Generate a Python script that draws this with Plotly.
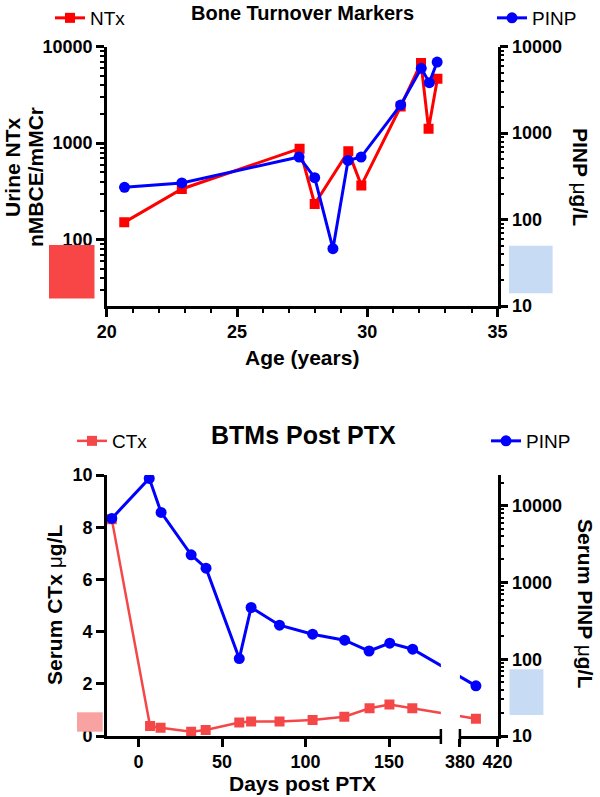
import math
import plotly.graph_objects as go

# ---------------- data ----------------
# Top panel: Bone Turnover Markers vs age
age_ntx = [20.67, 22.88, 27.40, 27.98, 29.27, 29.77, 31.28, 32.06, 32.35, 32.69]
ntx = [151, 335, 877, 234, 822, 365, 2400, 6760, 1413, 4660]
age_pinp = [20.68, 22.88, 27.38, 27.98, 28.68, 29.26, 29.76, 31.28, 32.07, 32.38, 32.68]
pinp_age = [236, 265, 529, 305, 46, 483, 529, 2120, 5620, 3840, 6640]

# Bottom panel: BTMs post PTX vs days
days_ctx = [-16, 6.9, 13.2, 31.5, 40.2, 60.3, 67.4, 84.4, 104.2, 123.2, 138.3, 150.2, 163.9, 397]
ctx = [8.3, 0.38, 0.32, 0.16, 0.23, 0.52, 0.56, 0.56, 0.61, 0.74, 1.06, 1.21, 1.06, 0.66]
days_pinp = [-16, 6.4, 13.5, 31.5, 40.4, 60.3, 67.4, 84.4, 104.2, 123.4, 138.0, 150.4, 164.1, 397]
pinp_days = [6830, 22700, 8180, 2290, 1535, 102, 472, 278, 212, 177, 128, 162, 135, 45]

day_ticks = [0, 50, 100, 150, 380, 420]
age_ticks = [20, 25, 30, 35]
ctx_ticks = [0, 2, 4, 6, 8, 10]

# ---------------- layout helpers ----------------
W, H = 600, 797
def px(x):
    return x / W
def py(y):
    return 1 - y / H

FONT = "Liberation Sans, Arial, sans-serif"
RED = "#FF0000"
RED2 = "#F44848"
BLUE = "#0000FF"
RED_BOX = "#F84646"
PINK_BOX = "#F9A2A2"
BLUE_BOX = "#C7DBF5"

# broken x axis (segment 1: -19..181 days, segment 2: 380..420 days)
SEG1 = (-19, 181)
SEG2 = (380, 420)
GAP_U = 11.4
K2 = 0.564
def to_u(d):
    return d if d <= SEG1[1] else SEG1[1] + GAP_U + (d - SEG2[0]) * K2

fig = go.Figure()
fig.add_trace(go.Scatter(
    x=age_ntx, y=ntx, name="NTx", mode="lines+markers",
    line=dict(color=RED, width=3), marker=dict(symbol="square", size=10, color=RED),
    xaxis="x", yaxis="y", legend="legend"))
fig.add_trace(go.Scatter(
    x=age_pinp, y=pinp_age, name="PINP", mode="lines+markers",
    line=dict(color=BLUE, width=3), marker=dict(symbol="circle", size=11, color=BLUE),
    xaxis="x", yaxis="y2", legend="legend2"))
fig.add_trace(go.Scatter(
    x=[to_u(d) for d in days_ctx], y=ctx, name="CTx", mode="lines+markers",
    line=dict(color=RED2, width=2.5), marker=dict(symbol="square", size=10, color=RED2),
    xaxis="x2", yaxis="y3", legend="legend3"))
fig.add_trace(go.Scatter(
    x=[to_u(d) for d in days_pinp], y=pinp_days, name="PINP", mode="lines+markers",
    line=dict(color=BLUE, width=3), marker=dict(symbol="circle", size=11, color=BLUE),
    xaxis="x2", yaxis="y4", legend="legend4"))

tickfont = dict(family=FONT, size=18, color="black", weight="bold")
common = dict(showline=True, linecolor="black", linewidth=2.5, ticks="outside",
              ticklen=8, tickwidth=2.5, tickcolor="black", showgrid=False,
              zeroline=False, tickfont=tickfont, fixedrange=True, automargin=False)
minor_log = dict(dtick="D1", ticks="outside", ticklen=4, tickwidth=2, tickcolor="black", showgrid=False)
log_common = dict(type="log", dtick=1, tickformat="d", minor=minor_log)

XDOM = [px(106.8), px(497.6)]
TOP_DOM = [py(306), py(46.7)]
BOT_DOM = [py(736), py(475)]

fig.update_layout(
    width=W, height=H,
    margin=dict(l=0, r=0, t=0, b=0, autoexpand=False),
    paper_bgcolor="white", plot_bgcolor="white",
    font=dict(family=FONT, color="black"),
    showlegend=True,
    xaxis=dict(domain=XDOM, anchor="y", range=[20, 35], tickvals=age_ticks,
               minor=dict(dtick=1, tick0=20, ticks="outside", ticklen=4, tickwidth=2,
                          tickcolor="black", showgrid=False), **common),
    yaxis=dict(domain=TOP_DOM, anchor="x", range=[math.log10(20.5), 4], **log_common, **common),
    yaxis2=dict(overlaying="y", anchor="x", side="right", range=[1, 4], **log_common, **common),
    xaxis2=dict(domain=XDOM, anchor="y3", range=[SEG1[0], to_u(SEG2[1])],
                tickvals=[to_u(d) for d in day_ticks], ticktext=[str(d) for d in day_ticks],
                **common),
    yaxis3=dict(domain=BOT_DOM, anchor="x2", range=[0, 10], tickvals=ctx_ticks, **common),
    yaxis4=dict(overlaying="y3", anchor="x2", side="right", range=[1, 4.4], **log_common, **common),
)

legfont = dict(family=FONT, size=19, color="black")
def leg(x, y):
    return dict(x=px(x), y=py(y), xref="container", yref="container", xanchor="left",
                yanchor="middle", font=legfont, bgcolor="rgba(0,0,0,0)")
fig.update_layout(legend=leg(50, 18), legend2=leg(492, 18), legend3=leg(72, 441), legend4=leg(486, 441))

# ---------------- text ----------------
ann = []
def add_text(text, x, y, size, angle=0, yanchor="middle"):
    ann.append(dict(text=text, x=px(x), y=py(y), xref="paper", yref="paper",
                    xanchor="center", yanchor=yanchor, showarrow=False,
                    textangle=angle, font=dict(family=FONT, size=size, color="black")))

add_text("<b>Bone Turnover Markers</b>", 302, 0, 20, yanchor="top")
add_text("<b>BTMs Post PTX</b>", 303, 435, 25)
add_text("<b>Age (years)</b>", 302, 357, 21)
add_text("<b>Days post PTX</b>", 302, 783, 21)
add_text("<b>Urine NTx</b>", 13, 167, 21, -90)
add_text("<b>nMBCE/mMCr</b>", 36, 177, 21, -90)
add_text("<b>PINP </b>\u03bc<b>g/L</b>", 580, 177, 21, 90)
add_text("<b>Serum CTx </b>\u03bc<b>g/L</b>", 54, 605, 21, -90)
add_text("<b>Serum PINP </b>\u03bc<b>g/L</b>", 586, 603, 21, 90)
fig.update_layout(annotations=ann)

# ---------------- reference-range boxes and axis break ----------------
shapes = []
def box(x0, y0, x1, y1, color):
    shapes.append(dict(type="rect", xref="paper", yref="paper", x0=px(x0), x1=px(x1),
                       y0=py(y1), y1=py(y0), fillcolor=color, line=dict(width=0), layer="above"))

box(49, 245, 94.5, 298.5, RED_BOX)
box(509, 245.7, 552.6, 293.3, BLUE_BOX)
box(77, 712.3, 102.7, 731.7, PINK_BOX)
box(509.5, 669.3, 543.4, 715, BLUE_BOX)

# hide the gap of the broken day axis
shapes.append(dict(type="rect", xref="x2", yref="paper", x0=SEG1[1], x1=to_u(SEG2[0]),
                   y0=py(739), y1=py(470), fillcolor="white", line=dict(width=0), layer="above"))
for xb in (SEG1[1], to_u(SEG2[0])):
    shapes.append(dict(type="line", xref="x2", yref="paper", x0=xb, x1=xb,
                       y0=py(744), y1=py(729), line=dict(color="black", width=2.5), layer="above"))
fig.update_layout(shapes=shapes)

fig.write_html("out.html", config={"displayModeBar": False},
               post_script="document.body.style.margin='0px';")
